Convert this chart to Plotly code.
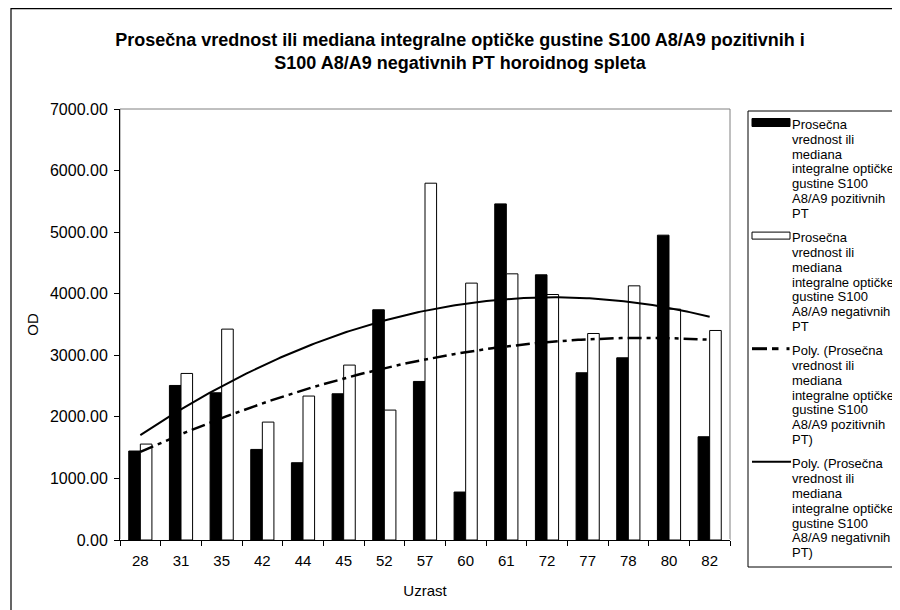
import numpy as np
import plotly.graph_objects as go

categories = ["28", "31", "35", "42", "44", "45", "52", "57", "60", "61", "72", "77", "78", "80", "82"]
positive_vals = [1445, 2510, 2391, 1471, 1255, 2375, 3739, 2575, 779, 5459, 4307, 2716, 2959, 4951, 1677]
negative_vals = [1558, 2705, 3425, 1915, 2338, 2841, 2110, 5795, 4172, 4323, 3987, 3354, 4128, 3750, 3403]
y_ticks = [0, 1000, 2000, 3000, 4000, 5000, 6000, 7000]

name_pos = "Prosečna<br>vrednost ili<br>mediana<br>integralne optičke<br>gustine S100<br>A8/A9 pozitivnih<br>PT"
name_neg = "Prosečna<br>vrednost ili<br>mediana<br>integralne optičke<br>gustine S100<br>A8/A9 negativnih<br>PT"
name_tpos = "Poly. (Prosečna<br>vrednost ili<br>mediana<br>integralne optičke<br>gustine S100<br>A8/A9 pozitivnih<br>PT)"
name_tneg = "Poly. (Prosečna<br>vrednost ili<br>mediana<br>integralne optičke<br>gustine S100<br>A8/A9 negativnih<br>PT)"
legend_names = [name_pos, name_neg, name_tpos, name_tneg]

FONT = "Liberation Sans, Arial, sans-serif"
DASH = "14px,5px,4px,5px"

# Excel-like 2nd order polynomial trendlines, fitted on category index
idx = np.arange(len(categories))
fit_pos = np.polyfit(idx + 1, positive_vals, 2)
fit_neg = np.polyfit(idx + 1, negative_vals, 2)
xs = np.linspace(0, len(categories) - 1, 200)

fig = go.Figure()
fig.add_trace(go.Bar(x=categories, y=positive_vals, name=name_pos, showlegend=False,
                     marker=dict(color="black", line=dict(color="black", width=1))))
fig.add_trace(go.Bar(x=categories, y=negative_vals, name=name_neg, showlegend=False,
                     marker=dict(color="white", line=dict(color="black", width=1))))
fig.add_trace(go.Scatter(x=xs, y=np.polyval(fit_pos, xs + 1), name=name_tpos, mode="lines",
                         showlegend=False, xaxis="x2",
                         line=dict(color="black", width=2.5, dash=DASH)))
fig.add_trace(go.Scatter(x=xs, y=np.polyval(fit_neg, xs + 1), name=name_tneg, mode="lines",
                         showlegend=False, xaxis="x2", line=dict(color="black", width=2)))

# page is offset by the 8px body margin
W, H = 892, 602
L, R, T, B = 112, 170, 101, 70
pw, ph = W - L - R, H - T - B

def px_x(px):
    return (px - L) / pw

def px_y(py):
    return (H - B - py) / ph

shapes = [
    dict(type="rect", xref="paper", yref="paper", x0=0, x1=1, y0=0, y1=1,
         line=dict(color="#808080", width=1), layer="below"),
    dict(type="rect", xref="paper", yref="paper", x0=px_x(3), x1=px_x(910),
         y0=px_y(620), y1=px_y(0.6), line=dict(color="black", width=1.2), layer="below"),
    # legend box
    dict(type="rect", xref="paper", yref="paper", x0=px_x(740), x1=px_x(905),
         y0=px_y(559), y1=px_y(103), line=dict(color="black", width=1), fillcolor="white",
         layer="above"),
]
annotations = []

sym_x0, sym_x1 = 744, 782
text_x = 783
entry_top = [114.5, 227.6, 340.7, 453.8]
line_h = 14.8

# symbols
shapes.append(dict(type="rect", xref="paper", yref="paper", x0=px_x(sym_x0), x1=px_x(sym_x1),
                   y0=px_y(entry_top[0] + 4), y1=px_y(entry_top[0] - 4),
                   fillcolor="black", line=dict(color="black", width=1)))
shapes.append(dict(type="rect", xref="paper", yref="paper", x0=px_x(sym_x0), x1=px_x(sym_x1),
                   y0=px_y(entry_top[1] + 3.5), y1=px_y(entry_top[1] - 3.5),
                   fillcolor="white", line=dict(color="black", width=1)))
for a, b in [(744, 759), (764, 770.5), (778.5, 781.5)]:
    shapes.append(dict(type="line", xref="paper", yref="paper", x0=px_x(a), x1=px_x(b),
                       y0=px_y(entry_top[2]), y1=px_y(entry_top[2]),
                       line=dict(color="black", width=3)))
shapes.append(dict(type="line", xref="paper", yref="paper", x0=px_x(sym_x0), x1=px_x(sym_x1 + 1),
                   y0=px_y(entry_top[3]), y1=px_y(entry_top[3]),
                   line=dict(color="black", width=2)))

for i, nm in enumerate(legend_names):
    for k, line in enumerate(nm.split("<br>")):
        annotations.append(dict(text=line, xref="paper", yref="paper",
                                x=px_x(text_x), y=px_y(entry_top[i] + 2 + line_h * k),
                                xanchor="left", yanchor="middle", showarrow=False,
                                borderpad=0,
                                font=dict(family=FONT, size=13, color="black")))

fig.update_layout(
    width=W, height=H,
    margin=dict(l=L, r=R, t=T, b=B, autoexpand=False),
    paper_bgcolor="white", plot_bgcolor="white",
    font=dict(family=FONT, color="black", size=15),
    barmode="group", bargap=0.43, bargroupgap=0,
    title=dict(text="<b>Prosečna vrednost ili mediana integralne optičke gustine S100 A8/A9 pozitivnih i<br>S100 A8/A9 negativnih PT horoidnog spleta</b>",
               x=452 / W, xref="container", xanchor="center",
               y=1 - 38 / H, yref="container", yanchor="top",
               font=dict(family=FONT, size=18, color="black")),
    xaxis=dict(type="category", tickson="boundaries", ticks="outside", ticklen=5,
               tickcolor="black", showline=True, linecolor="black", linewidth=1,
               showgrid=False, tickfont=dict(size=15), ticklabelstandoff=7,
               title=dict(text="Uzrast", standoff=17, font=dict(size=15))),
    xaxis2=dict(overlaying="x", range=[-0.5, len(categories) - 0.5], visible=False),
    yaxis=dict(range=[0, 7000], tickvals=y_ticks, tickformat=".2f", ticks="outside", ticklen=5,
               tickcolor="black", showline=True, linecolor="black", linewidth=1,
               showgrid=False, tickfont=dict(size=16), ticklabelstandoff=3,
               title=dict(text="OD", standoff=7, font=dict(size=15))),
    showlegend=False,
    shapes=shapes,
    annotations=annotations,
)

fig.write_html("out.html")
